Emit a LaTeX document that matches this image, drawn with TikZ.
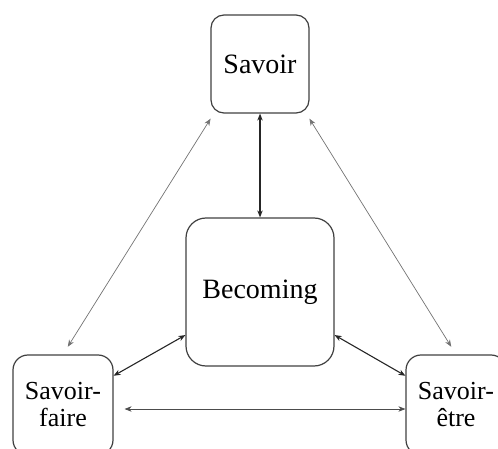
\documentclass[tikz,border=0pt]{standalone}
\usepackage{fontspec}
\setmainfont{Liberation Serif}
\usepackage{tikz}
\usetikzlibrary{arrows.meta}
\tikzset{
    box/.style={draw=black!75,line width=1.2pt,rounded corners=13pt,align=center,inner sep=0pt,font=\fontsize{28}{30}\selectfont},
    bigbox/.style={box,rounded corners=20pt},
    lowbox/.style={box,rounded corners=15pt,font=\fontsize{26}{27}\selectfont},
    arrow/.style={{Stealth[length=7pt,width=5.5pt]}-{Stealth[length=7pt,width=5.5pt]},line width=1.1pt,black!85},
    thinarrow/.style={arrow,line width=0.7pt,black!55}
}
\begin{document}
\begin{tikzpicture}[x=1pt,y=-1pt]
    \useasboundingbox (0,0) rectangle (498,449);
    \clip (0,0) rectangle (498,449);
    \node[box,minimum size=98pt] (S) at (260,64) {Savoir};
    \node[bigbox,minimum size=148pt] (B) at (260,292) {Becoming};
    \node[lowbox,minimum size=100pt] (SF) at (63,405) {Savoir-\\faire};
    \node[lowbox,minimum size=100pt] (SE) at (456,405) {Savoir-\\être};
    \draw[arrow,line width=1.4pt] (S.south)--(B.north);
    \draw[thinarrow,shorten <=6pt,shorten >=9pt] (S.227)--(SF.north);
    \draw[thinarrow,shorten <=6pt,shorten >=9pt] (S.313)--(SE.north);
    \draw[arrow] (B.210)--(SF.30);
    \draw[arrow] (B.330)--(SE.150);
    \draw[thinarrow,black!70,shorten <=11pt] ([yshift=-4pt]SF.east)--([yshift=-4pt]SE.west);
\end{tikzpicture}
\end{document}
